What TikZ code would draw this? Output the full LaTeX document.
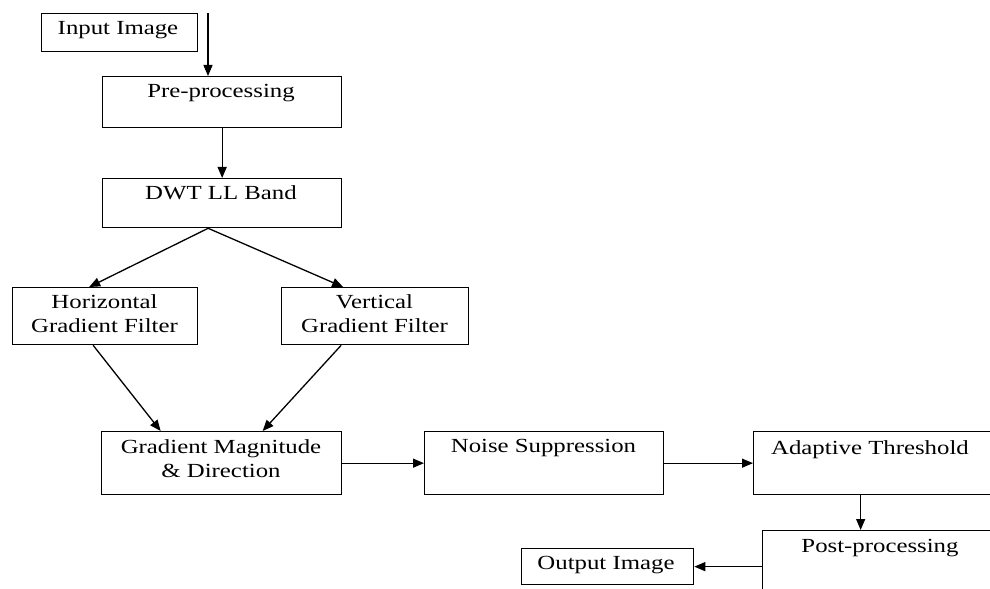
\documentclass[tikz,border=0pt]{standalone}
\usepackage{fontspec}
\newfontfamily\diagfont{Liberation Serif}[FakeStretch=1.24]
\usetikzlibrary{arrows.meta,calc}
\begin{document}
\begin{tikzpicture}[x=1bp,y=-1bp,
  box/.style={draw,line width=1.3bp,rectangle,inner sep=0pt,anchor=north west},
  lbl/.style={font=\diagfont\fontsize{20bp}{24bp}\selectfont,anchor=north,inner sep=0pt,align=center},
  arr/.style={line width=1.3bp,-{Triangle[length=11bp,width=9bp]}}]
\useasboundingbox (0,0) rectangle (990,589);
\clip (0,0) rectangle (990,589);
\node[box,minimum width=156bp,minimum height=38bp] (in) at (41,13) {};
\node[box,minimum width=239bp,minimum height=51bp] (pre) at (102,76) {};
\node[box,minimum width=239bp,minimum height=49bp] (dwt) at (102,178) {};
\node[box,minimum width=185bp,minimum height=57bp] (hgf) at (12,287) {};
\node[box,minimum width=187bp,minimum height=57bp] (vgf) at (281,287) {};
\node[box,minimum width=240bp,minimum height=63bp] (gmd) at (101,431) {};
\node[box,minimum width=239bp,minimum height=63bp] (ns) at (424,431) {};
\node[box,minimum width=240bp,minimum height=63bp] (at) at (753,431) {};
\node[box,minimum width=236bp,minimum height=70bp] (pp) at (762,530) {};
\node[box,minimum width=172bp,minimum height=36bp] (out) at (521,548) {};

\node[lbl] (tin) at (118,21) {Input Image};
\node[lbl] (tpre) at (221,84) {Pre-processing};
\node[lbl] (tdwt) at (221,185) {DWT LL Band};
\node[lbl] (thgf) at (104.5,294) {Horizontal\\Gradient Filter};
\node[lbl] (tvgf) at (374.5,294) {Vertical\\Gradient Filter};
\node[lbl] (tgmd) at (221,439) {Gradient Magnitude\\\& Direction};
\node[lbl] (tns) at (543.5,439) {Noise Suppression};
\node[lbl] (tat) at (870,440) {Adaptive Threshold};
\node[lbl] (tpp) at (880,539) {Post-processing};
\node[lbl] (tout) at (606,556) {Output Image};

\coordinate (src) at (208,13);
\draw[arr] (src) -- (src |- pre.north);
\draw[arr] (pre.south) -- (dwt.north);
\draw[arr] ([xshift=-14bp]dwt.south) -- ([xshift=-16bp]hgf.north);
\draw[arr] ([xshift=-14bp]dwt.south) -- ([xshift=-32bp]vgf.north);
\draw[arr] ([xshift=-12bp]hgf.south) -- ([xshift=-61bp]gmd.north);
\draw[arr] ([xshift=-34bp]vgf.south) -- ([xshift=41bp]gmd.north);
\draw[arr] (gmd.east) -- (ns.west);
\draw[arr] (ns.east) -- (at.west);
\draw[arr] ([xshift=-13bp]at.south) -- ([xshift=-13bp]at.south |- pp.north);
\draw[arr] (pp.west |- out.east) -- (out.east);
\end{tikzpicture}
\end{document}
